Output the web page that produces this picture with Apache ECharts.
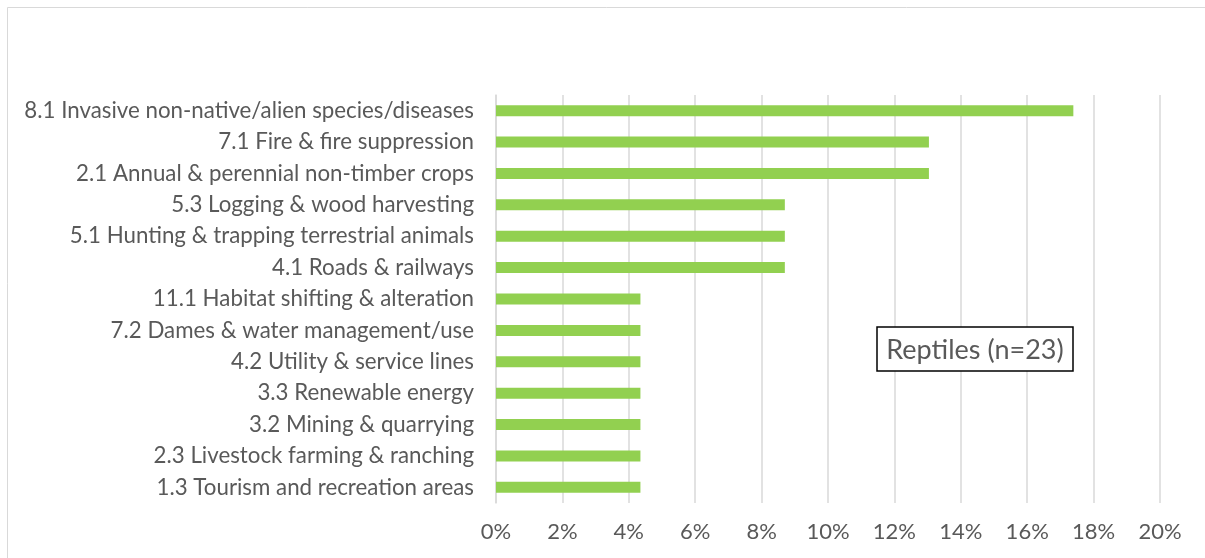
<!DOCTYPE html>
<html>
<head>
<meta charset="utf-8">
<script src="https://cdn.jsdelivr.net/npm/echarts@6/dist/echarts.min.js"></script>
<style>
  html, body { margin: 0; padding: 0; background: #fff; }
  #chart { width: 1205px; height: 558px; }
</style>
</head>
<body>
<div id="chart"></div>
<script>
// threats, bottom to top as the category axis draws them
const categories = [
  '1.3 Tourism and recreation areas',
  '2.3 Livestock farming & ranching',
  '3.2 Mining & quarrying',
  '3.3 Renewable energy',
  '4.2 Utility & service lines',
  '7.2 Dames & water management/use',
  '11.1 Habitat shifting & alteration',
  '4.1 Roads & railways',
  '5.1 Hunting & trapping terrestrial animals',
  '5.3 Logging & wood harvesting',
  '2.1 Annual & perennial non-timber crops',
  '7.1 Fire & fire suppression',
  '8.1 Invasive non-native/alien species/diseases'
]
// share of species (n=23), in %
const values = [4.35, 4.35, 4.35, 4.35, 4.35, 4.35, 4.35, 8.70, 8.70, 8.70, 13.04, 13.04, 17.39]
const ticks = [0, 2, 4, 6, 8, 10, 12, 14, 16, 18, 20]
const boxText = 'Reptiles (n=23)'

const font = 'Lato'
const chart = echarts.init(document.getElementById('chart'))

chart.setOption({
  backgroundColor: '#fff',
  animation: false,
  grid: { left: 496, right: 45, top: 95, bottom: 55, containLabel: false },
  xAxis: {
    type: 'value',
    min: ticks[0],
    max: ticks[ticks.length - 1],
    interval: 2,
    axisLine: { show: false },
    axisTick: { show: false },
    splitLine: { lineStyle: { color: '#d9d9d9', width: 1.5 } },
    axisLabel: {
      formatter: '{value}%',
      margin: 18,
      color: '#595959',
      fontFamily: font,
      fontSize: 22
    }
  },
  yAxis: {
    type: 'category',
    data: categories,
    axisLine: { show: true, lineStyle: { color: '#d9d9d9', width: 1.5 } },
    axisTick: { show: false },
    axisLabel: {
      margin: 22,
      color: '#595959',
      fontFamily: font,
      fontSize: 22.3
    }
  },
  series: [
    {
      type: 'bar',
      data: values,
      barWidth: 11,
      itemStyle: { color: '#92d050' }
    }
  ],
  graphic: [
    {
      type: 'rect',
      shape: { x: 7.5, y: 7.5, width: 1300, height: 700 },
      style: { fill: null, stroke: '#d9d9d9', lineWidth: 1 },
      silent: true
    },
    {
      type: 'rect',
      shape: { x: 877, y: 327, width: 196, height: 44 },
      style: { fill: '#fff', stroke: '#000', lineWidth: 1.5 },
      z: 100
    },
    {
      type: 'text',
      x: 975,
      y: 350,
      z: 101,
      style: {
        text: boxText,
        align: 'center',
        verticalAlign: 'middle',
        fill: '#595959',
        font: '27px ' + font
      }
    }
  ]
})
</script>
</body>
</html>
